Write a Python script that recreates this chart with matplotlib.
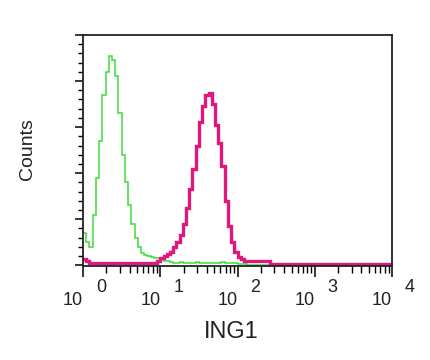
import numpy as np
import matplotlib
matplotlib.use('Agg')
import matplotlib.pyplot as plt
import matplotlib.transforms as mtransforms

# Histogram channels: 24 bins per decade over 10^0 .. 10^4
bins_per_decade = 24
edges = 10 ** (np.arange(4 * bins_per_decade + 1) / bins_per_decade)

# Isotype control (green)
control_counts = ([14, 10, 8, 22, 38, 54, 74, 84, 91, 89, 82, 66, 48, 36, 26,
                   18, 12, 8, 5.5, 4.5, 4, 3.5, 3, 3, 2.5, 2, 1.8, 1.5] +
                  [1.2, 1.2, 1.4, 1.2, 1.2, 1.2, 1.2, 1.6, 1.2, 1.2, 1.2, 1.2,
                   1.2, 1.2, 1.2, 1.6, 1.2, 1.2, 1.2, 1.0, 0.8, 0.6, 0.5] +
                  [0.3] * 45)

# ING1 stained sample (magenta)
ing1_counts = ([2.6, 1.8] + [1.2] * 21 +
               [1.8, 3, 4, 5, 6, 8, 10, 13, 18, 25, 33, 42, 52, 62, 69, 74, 75,
                70, 61, 53, 43, 28, 17, 10, 6, 3.5, 2.6] +
               [2] * 8 + [0.8] * 38)

decade_exponents = ['0', '1', '2', '3', '4']

plt.rcParams['font.family'] = ['Liberation Sans', 'DejaVu Sans']

fig = plt.figure(figsize=(4.3, 3.6), dpi=100)
ax = fig.add_axes([0.193, 0.261, 0.719, 0.642])

ax.stairs(control_counts, edges, baseline=None, color='#3ddc3a', lw=1.1)
ax.stairs(ing1_counts, edges, baseline=None, color='#e0177f', lw=2.4)

ax.set_xscale('log')
ax.set_xlim(1, 1e4)
ax.set_ylim(-0.3, 100)

for s in ax.spines.values():
    s.set_linewidth(1.3)
    s.set_color('#222222')

ax.tick_params(axis='x', which='major', direction='out', length=8, width=1.1,
               labelbottom=False)
ax.tick_params(axis='x', which='minor', direction='out', length=5, width=1.0,
               labelbottom=False)
ax.set_yticks(np.arange(0, 101, 20))
ax.set_yticks(np.arange(0, 101, 4), minor=True)
ax.tick_params(axis='y', which='major', direction='out', length=6, width=1.1,
               labelleft=False)
ax.tick_params(axis='y', which='minor', direction='out', length=3.5, width=1.0)

# "10 ^n" style decade labels
trans = mtransforms.blended_transform_factory(ax.transData, ax.transAxes)
for k, e in enumerate(decade_exponents):
    ax.text(10 ** k, -0.147, '10', transform=trans, ha='right', va='center',
            fontsize=13, color='#222222')
    ax.text(10 ** k * 1.47, -0.095, e, transform=trans, ha='left', va='center',
            fontsize=13, color='#222222')

fig.text(0.537, 0.078, 'ING1', ha='center', va='center', fontsize=17,
         color='#222222')
fig.text(0.065, 0.585, 'Counts', ha='center', va='center', rotation=90,
         fontsize=14, color='#222222')

fig.savefig('out.png', dpi=100)
